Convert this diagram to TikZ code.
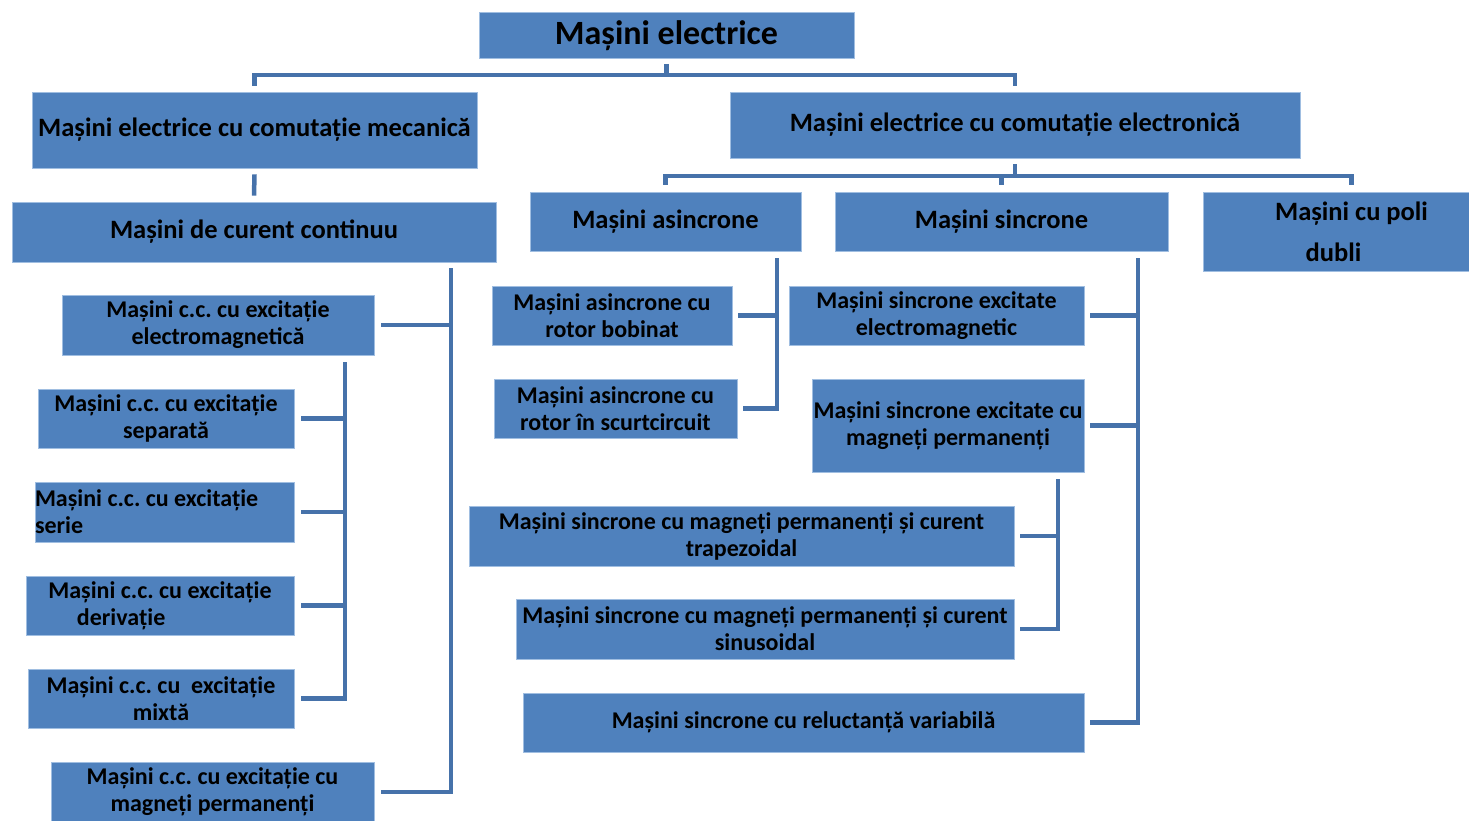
\documentclass[tikz,border=0pt]{standalone}
\usepackage{fontspec}
\setmainfont{Carlito}
\frenchspacing
\definecolor{boxfill}{RGB}{79,129,189}
\definecolor{boxedge}{RGB}{160,190,225}
\definecolor{connc}{RGB}{70,114,170}
\begin{document}
\begin{tikzpicture}[x=1pt,y=-1pt,
  box/.style={rectangle, fill=boxfill, draw=boxedge, line width=0.8pt, inner sep=0pt,
    font=\bfseries\fontsize{24}{27}\selectfont, align=center, text=black},
  big/.style={font=\bfseries\fontsize{26.5}{30}\selectfont},
  conn/.style={draw=connc, line width=4.5pt}]
\useasboundingbox (0,0) rectangle (1469,820);
\clip (0,0) rectangle (1469,820);
% level 0
\node[box, minimum width=375pt, minimum height=46pt, font=\bfseries\fontsize{34}{38}\selectfont] (root) at (666.5,35.5) {Mașini electrice};
% level 1
\node[box, big, minimum width=445pt, minimum height=76pt] (mech) at (254.5,130) {Mașini electrice cu comutație mecanică};
\node[box, big, minimum width=570pt, minimum height=66pt] (elec) at (1015,125) {Mașini electrice cu comutație electronică};
% level 2
\node[box, big, minimum width=484pt, minimum height=60pt] (dc) at (254,232) {Mașini de curent continuu};
\node[box, big, minimum width=271pt, minimum height=59pt] (async) at (665.5,221.5) {Mașini asincrone};
\node[box, big, minimum width=333pt, minimum height=59pt] (sync) at (1001.5,221.5) {Mașini sincrone};
\node[box, minimum width=297pt, minimum height=79pt, font=\bfseries\fontsize{26.5}{41}\selectfont] (poli) at (1351.5,231.5) {Mașini cu poli\\dubli\hspace*{36pt}};
% DC children
\node[box, minimum width=312pt, minimum height=60pt] (em) at (218,325) {Mașini c.c. cu excitație\\electromagnetică};
\node[box, minimum width=256pt, minimum height=59pt] (sep) at (166,418.5) {Mașini c.c. cu excitație\\separată};
\node[box, minimum width=259pt, minimum height=60pt, align=flush left, text width=259pt] (serie) at (164.5,512) {Mașini c.c. cu excitație\\serie};
\node[box, minimum width=268pt, minimum height=59pt, align=flush left, text width=268pt] (deriv) at (160,605.5) {\makebox[268pt]{Mașini c.c. cu excitație}\\\hspace*{51pt}derivație};
\node[box, minimum width=266pt, minimum height=59pt] (mixt) at (161,698.5) {Mașini c.c. cu\ \ excitație\\mixtă};
\node[box, minimum width=323pt, minimum height=60pt] (pm) at (212.5,792) {Mașini c.c. cu excitație cu\\magneți permanenți};
% async children
\node[box, minimum width=240pt, minimum height=59pt] (bob) at (612,315.5) {Mașini asincrone cu\\rotor bobinat};
\node[box, minimum width=243pt, minimum height=59pt] (scc) at (615.5,408.5) {Mașini asincrone cu\\rotor în scurtcircuit};
% sync children
\node[box, minimum width=295pt, minimum height=59pt] (sem) at (936.5,315.5) {Mașini sincrone excitate\\electromagnetic};
\node[box, minimum width=272pt, minimum height=93pt] (spm) at (948,425.5) {Mașini sincrone excitate cu\\magneți permanenți};
\node[box, minimum width=545pt, minimum height=60pt] (trap) at (741.5,536) {Mașini sincrone cu magneți permanenți și curent\\trapezoidal};
\node[box, minimum width=498pt, minimum height=60pt] (sin) at (765,629) {Mașini sincrone cu magneți permanenți și curent\\sinusoidal};
\node[box, minimum width=561pt, minimum height=59pt] (rel) at (803.5,722.5) {Mașini sincrone cu reluctanță variabilă};
% connectors: top
\coordinate (bus0) at (666.5,75);
\draw[conn] ([yshift=-5pt]root.south) -- (bus0);
\draw[conn] ([yshift=6pt]mech.north) |- (bus0) -| ([yshift=6pt]elec.north);
\draw[conn] ([yshift=-6pt]mech.south) -- ([yshift=6pt]dc.north);
% electronic bus
\coordinate (bus1) at (1015,176);
\draw[conn] ([yshift=-6pt]elec.south) -- (bus1);
\draw[conn] ([yshift=7pt]async.north) |- (bus1) -| ([yshift=7pt]poli.north);
\draw[conn] ([yshift=7pt]sync.north) -- (sync.north |- bus1);
% DC bracket
\coordinate (dcx) at (451,268);
\draw[conn] (dcx) |- ([xshift=7pt]pm.east);
\draw[conn] ([xshift=7pt]em.east) -- (em.east -| dcx);
\coordinate (emx) at (345,362);
\draw[conn] (emx) |- ([xshift=7pt]mixt.east);
\draw[conn] ([xshift=7pt]sep.east) -- (sep.east -| emx);
\draw[conn] ([xshift=7pt]serie.east) -- (serie.east -| emx);
\draw[conn] ([xshift=7pt]deriv.east) -- (deriv.east -| emx);
% async bracket
\coordinate (asx) at (777,258);
\draw[conn] (asx) |- ([xshift=6pt]scc.east);
\draw[conn] ([xshift=6pt]bob.east) -- (bob.east -| asx);
% sync bracket
\coordinate (syx) at (1138,258);
\draw[conn] (syx) |- ([xshift=6pt]rel.east);
\draw[conn] ([xshift=6pt]sem.east) -- (sem.east -| syx);
\draw[conn] ([xshift=6pt]spm.east) -- (spm.east -| syx);
% PM sub-bracket
\coordinate (pmx) at (1058,479);
\draw[conn] (pmx) |- ([xshift=6pt]sin.east);
\draw[conn] ([xshift=6pt]trap.east) -- (trap.east -| pmx);
\end{tikzpicture}
\end{document}
